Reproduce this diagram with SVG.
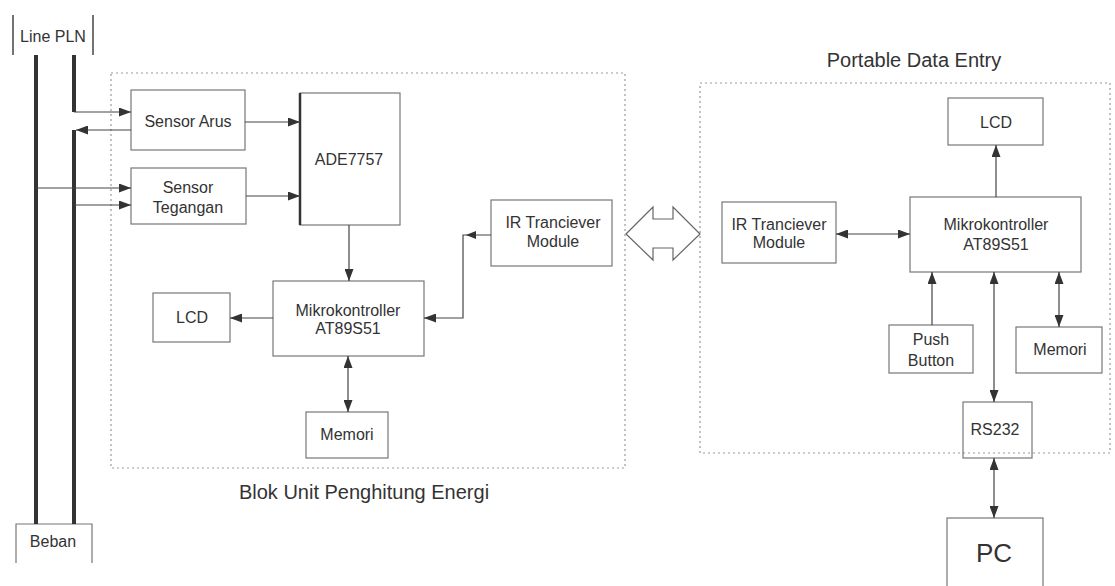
<svg xmlns="http://www.w3.org/2000/svg" width="1115" height="586" viewBox="0 0 1115 586">
<style>
text{font-family:"Liberation Sans",Arial,sans-serif;fill:#333;text-anchor:middle;font-size:16px}
.box{fill:none;stroke:#777;stroke-width:1.2}
.blk{fill:none;stroke:#999;stroke-width:1.2;stroke-dasharray:2,3}
.c{fill:none;stroke:#444;stroke-width:1.2}
.thick{fill:none;stroke:#333;stroke-width:4}
.title{font-size:20px}
</style>
<defs>
<marker id="a" viewBox="0 0 12 9" refX="12" refY="4.5" markerWidth="12" markerHeight="9" markerUnits="userSpaceOnUse" orient="auto-start-reverse">
<path d="M0,0 L12,4.5 L0,9 z" fill="#333"/>
</marker>
</defs>
<rect width="1115" height="586" fill="#fff"/>

<g id="block-unit">
<rect class="blk" x="111" y="73" width="514" height="395"/>
<text class="title" x="364" y="499">Blok Unit Penghitung Energi</text>
</g>
<g id="block-portable">
<rect class="blk" x="700" y="83" width="410" height="370"/>
<text class="title" x="914" y="67">Portable Data Entry</text>
</g>

<g id="line-pln">
<line x1="13" y1="15" x2="13" y2="55" stroke="#444" stroke-width="1.5"/>
<line x1="93" y1="15" x2="93" y2="55" stroke="#444" stroke-width="1.5"/>
<text x="53" y="42">Line PLN</text>
</g>
<g id="beban">
<path class="box" d="M16,563 V524 H92 V563"/>
<text x="53" y="547">Beban</text>
</g>
<g id="sensor-arus">
<rect class="box" x="131" y="90" width="114" height="60"/>
<text x="188" y="127">Sensor Arus</text>
</g>
<g id="sensor-tegangan">
<rect class="box" x="131" y="168" width="115" height="56"/>
<text x="188" y="193">Sensor</text>
<text x="188" y="213">Tegangan</text>
</g>
<g id="ade7757">
<rect class="box" x="300" y="93" width="100" height="132" stroke="#bbb"/>
<line x1="300" y1="93" x2="300" y2="225" stroke="#333" stroke-width="2.5"/>
<text x="349" y="165">ADE7757</text>
</g>
<g id="mikro-left">
<rect class="box" x="273" y="281" width="151" height="75"/>
<text x="348" y="316">Mikrokontroller</text>
<text x="348" y="334">AT89S51</text>
</g>
<g id="lcd-left">
<rect class="box" x="153" y="293" width="77" height="49"/>
<text x="192" y="323">LCD</text>
</g>
<g id="memori-left">
<rect class="box" x="306" y="412" width="82" height="46"/>
<text x="347" y="440">Memori</text>
</g>
<g id="ir-left">
<rect class="box" x="491" y="200" width="121" height="66"/>
<text x="553" y="228">IR Tranciever</text>
<text x="553" y="247">Module</text>
</g>

<g id="ir-right">
<rect class="box" x="722" y="202" width="114" height="61"/>
<text x="779" y="230">IR Tranciever</text>
<text x="779" y="248">Module</text>
</g>
<g id="lcd-right">
<rect class="box" x="948" y="98" width="95" height="47"/>
<text x="996" y="128">LCD</text>
</g>
<g id="mikro-right">
<rect class="box" x="910" y="197" width="171" height="75"/>
<text x="996" y="230">Mikrokontroller</text>
<text x="996" y="250">AT89S51</text>
</g>
<g id="push-button">
<rect class="box" x="889" y="325" width="84" height="48"/>
<text x="931" y="345">Push</text>
<text x="931" y="366">Button</text>
</g>
<g id="memori-right">
<rect class="box" x="1016" y="327" width="86" height="46"/>
<text x="1060" y="355">Memori</text>
</g>
<g id="rs232">
<rect class="box" x="963" y="402" width="69" height="56"/>
<text x="995" y="435">RS232</text>
</g>
<g id="pc">
<rect class="box" x="947" y="518" width="96" height="80"/>
<text x="994" y="562" style="font-size:26px">PC</text>
</g>

<g id="connectors">
<line class="thick" x1="36" y1="55" x2="36" y2="524"/>
<line class="thick" x1="74" y1="55" x2="74" y2="112"/>
<line class="thick" x1="74" y1="130" x2="74" y2="524"/>
<line class="c" x1="74" y1="112" x2="131" y2="112" marker-end="url(#a)"/>
<line class="c" x1="131" y1="130" x2="76" y2="130" marker-end="url(#a)"/>
<line class="c" x1="36" y1="188" x2="131" y2="188" marker-end="url(#a)"/>
<line class="c" x1="74" y1="205" x2="131" y2="205" marker-end="url(#a)"/>
<line class="c" x1="245" y1="122" x2="300" y2="122" marker-end="url(#a)"/>
<line class="c" x1="246" y1="196" x2="300" y2="196" marker-end="url(#a)"/>
<line class="c" x1="349" y1="225" x2="349" y2="281" marker-end="url(#a)"/>
<line class="c" x1="273" y1="318" x2="230" y2="318" marker-end="url(#a)"/>
<line class="c" x1="348" y1="356" x2="348" y2="412" marker-start="url(#a)" marker-end="url(#a)"/>
<path class="c" d="M491,235 H463 V318 H424" marker-end="url(#a)"/>
<path d="M476,231 L466,235 L476,239 z" fill="#333"/>
<path d="M626,234 L653,207 L653,219 L673,219 L673,207 L700,234 L673,260 L673,248 L653,248 L653,260 z" fill="none" stroke="#666" stroke-width="1.2"/>
<line class="c" x1="836" y1="234" x2="910" y2="234" marker-start="url(#a)" marker-end="url(#a)"/>
<line class="c" x1="996" y1="197" x2="996" y2="145" marker-end="url(#a)"/>
<line class="c" x1="932" y1="325" x2="932" y2="272" marker-end="url(#a)"/>
<line class="c" x1="994" y1="272" x2="994" y2="402" marker-start="url(#a)" marker-end="url(#a)"/>
<line class="c" x1="1059" y1="272" x2="1059" y2="327" marker-start="url(#a)" marker-end="url(#a)"/>
<line class="c" x1="994" y1="458" x2="994" y2="518" marker-start="url(#a)" marker-end="url(#a)"/>
</g>
</svg>
